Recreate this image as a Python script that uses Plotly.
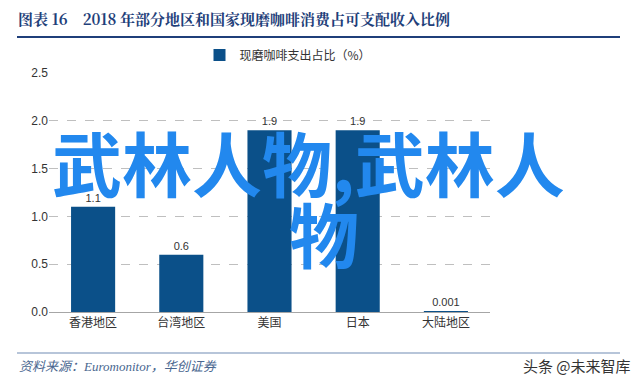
import plotly.graph_objects as go

categories = ["香港地区", "台湾地区", "美国", "日本", "大陆地区"]
values = [1.1, 0.6, 1.9, 1.9, 0.001]
value_labels = ["1.1", "0.6", "1.9", "1.9", "0.001"]
series_name = "现磨咖啡支出占比（%）"
y_ticks = [0.0, 0.5, 1.0, 1.5, 2.0, 2.5]
y_tick_labels = ["0.0", "0.5", "1.0", "1.5", "2.0", "2.5"]
title_text = "图表 16    2018 年部分地区和国家现磨咖啡消费占可支配收入比例"
source_text = "资料来源：Euromonitor，华创证券"
watermark_text = "头条 @未来智库"
overlay_line1 = "武林人物,武林人"
overlay_line2 = "物"

W, H = 640, 377
L, R, T, B = 49, 150, 73, 65
pw, ph = W - L - R, H - T - B


def px(x):
    return (x - L) / pw


def py(y):
    return (H - B - y) / ph


fig = go.Figure()
fig.add_trace(go.Bar(
    x=categories, y=values, name=series_name,
    marker=dict(color="#0B5089", line=dict(width=0)),
    width=0.5,
    text=value_labels, textposition="outside",
    textfont=dict(size=11, color="#333333", family="Liberation Sans, Noto Sans CJK SC"),
    cliponaxis=False,
))

fig.update_layout(
    width=W, height=H,
    margin=dict(l=L, r=R, t=T, b=B),
    paper_bgcolor="white", plot_bgcolor="white",
    font=dict(family="Noto Sans CJK SC", color="#333333"),
    showlegend=True,
    legend=dict(orientation="h", x=px(288), xanchor="center", y=py(55), yanchor="middle",
                font=dict(size=12, color="#333333"), bgcolor="rgba(0,0,0,0)",
                itemwidth=30),
    bargap=0.5,
    xaxis=dict(showgrid=False, showline=True, linecolor="#A6A6A6", linewidth=1,
               ticks="", tickfont=dict(size=12, color="#333333")),
    yaxis=dict(range=[0, 2.5], tickvals=y_ticks, ticktext=y_tick_labels,
               showgrid=True, gridcolor="#BFBFBF", griddash="dash", gridwidth=1,
               zeroline=False, showline=False, ticks="", ticklen=0,
               tickfont=dict(size=12, color="#333333", family="Liberation Sans, Noto Sans CJK SC")),
)

# title and rules
fig.add_annotation(xref="paper", yref="paper", x=px(16), y=py(19), xanchor="left", yanchor="middle",
                   text="<b>" + title_text + "</b>", showarrow=False,
                   font=dict(size=15, color="#1F3F7A", family="Noto Serif CJK SC, Noto Sans CJK SC"))
fig.add_shape(type="line", xref="paper", yref="paper", x0=px(17), x1=px(620), y0=py(37), y1=py(37),
              line=dict(color="#1F3F7A", width=2))
fig.add_shape(type="line", xref="paper", yref="paper", x0=px(17), x1=px(620), y0=py(353), y1=py(353),
              line=dict(color="#9FB2CC", width=1.5))
fig.add_annotation(xref="paper", yref="paper", x=px(17), y=py(366), xanchor="left", yanchor="middle",
                   text="<i>" + source_text + "</i>", showarrow=False,
                   font=dict(size=13, color="#4A6790", family="Liberation Serif, Noto Sans CJK SC"))
fig.add_annotation(xref="paper", yref="paper", x=px(633), y=py(365), xanchor="right", yanchor="middle",
                   text=watermark_text, showarrow=False,
                   font=dict(size=15, color="#333333", family="Noto Sans CJK SC"))

# overlay text
fig.add_annotation(xref="paper", yref="paper", x=px(308), y=py(161), xanchor="center", yanchor="middle",
                   text="<b>" + overlay_line1 + "</b>", showarrow=False,
                   font=dict(size=70, color="#2288EE", family="Noto Sans CJK SC"))
fig.add_annotation(xref="paper", yref="paper", x=px(324), y=py(232), xanchor="center", yanchor="middle",
                   text="<b>" + overlay_line2 + "</b>", showarrow=False,
                   font=dict(size=70, color="#2288EE", family="Noto Sans CJK SC"))

fig.write_html("out.html")
